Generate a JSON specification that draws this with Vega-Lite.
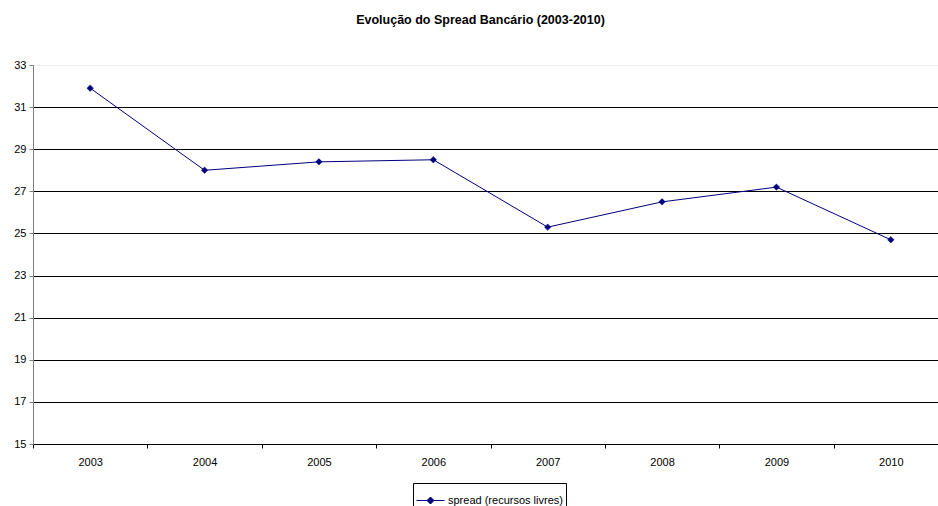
{
  "$schema": "https://vega.github.io/schema/vega-lite/v6.json",
  "autosize": {"type": "none"},
  "padding": {"left": 33, "top": 65, "right": 0, "bottom": 62},
  "width": 915,
  "height": 379,
  "background": "white",
  "config": {
    "view": {"stroke": null},
    "font": "Liberation Sans"
  },
  "title": {
    "text": "Evolução do Spread Bancário (2003-2010)",
    "font": "Liberation Sans",
    "fontSize": 12.5,
    "fontWeight": "bold",
    "color": "black",
    "anchor": "middle",
    "baseline": "bottom",
    "offset": 20,
    "dx": -10
  },
  "data": {
    "values": [
      {"ano": "2003", "spread": 31.9, "serie": "spread (recursos livres)"},
      {"ano": "2004", "spread": 28.0, "serie": "spread (recursos livres)"},
      {"ano": "2005", "spread": 28.4, "serie": "spread (recursos livres)"},
      {"ano": "2006", "spread": 28.5, "serie": "spread (recursos livres)"},
      {"ano": "2007", "spread": 25.3, "serie": "spread (recursos livres)"},
      {"ano": "2008", "spread": 26.5, "serie": "spread (recursos livres)"},
      {"ano": "2009", "spread": 27.2, "serie": "spread (recursos livres)"},
      {"ano": "2010", "spread": 24.7, "serie": "spread (recursos livres)"}
    ]
  },
  "encoding": {
    "x": {
      "field": "ano",
      "type": "ordinal",
      "scale": {"type": "band", "paddingInner": 0, "paddingOuter": 0},
      "axis": {
        "title": null,
        "labelAngle": 0,
        "labelFont": "Liberation Sans",
        "labelFontSize": 11,
        "labelColor": "black",
        "labelPadding": 8,
        "tickBand": "extent",
        "tickSize": 4,
        "tickColor": "black",
        "domainColor": "black",
        "grid": false
      }
    },
    "y": {
      "field": "spread",
      "type": "quantitative",
      "scale": {"domain": [15, 33], "nice": false, "zero": false},
      "axis": {
        "title": null,
        "values": [15, 17, 19, 21, 23, 25, 27, 29, 31, 33],
        "labelFont": "Liberation Sans",
        "labelFontSize": 11,
        "labelColor": "black",
        "labelPadding": 3,
        "tickSize": 4,
        "tickColor": "#808080",
        "domainColor": "#808080",
        "grid": true,
        "gridColor": {"condition": {"test": "datum.value == 33", "value": "#eeeeee"}, "value": "black"},
        "gridOpacity": 1
      }
    },
    "color": {
      "field": "serie",
      "type": "nominal",
      "scale": {"range": ["#000080"]},
      "legend": {
        "title": null,
        "orient": "none",
        "legendX": 380,
        "legendY": 418,
        "strokeColor": "black",
        "fillColor": "white",
        "padding": 3,
        "symbolType": "M-1,0H1M0,-0.25L0.25,0L0,0.25L-0.25,0Z",
        "symbolSize": 784,
        "symbolStrokeWidth": 1,
        "symbolFillColor": "#000080",
        "symbolStrokeColor": "#000080",
        "labelFont": "Liberation Sans",
        "labelFontSize": 11,
        "labelColor": "black",
        "labelOffset": 3
      }
    }
  },
  "layer": [
    {"mark": {"type": "line", "strokeWidth": 1}},
    {"mark": {"type": "point", "shape": "diamond", "filled": true, "size": 42, "opacity": 1, "strokeWidth": 0.5, "stroke": "#000080"}}
  ]
}
